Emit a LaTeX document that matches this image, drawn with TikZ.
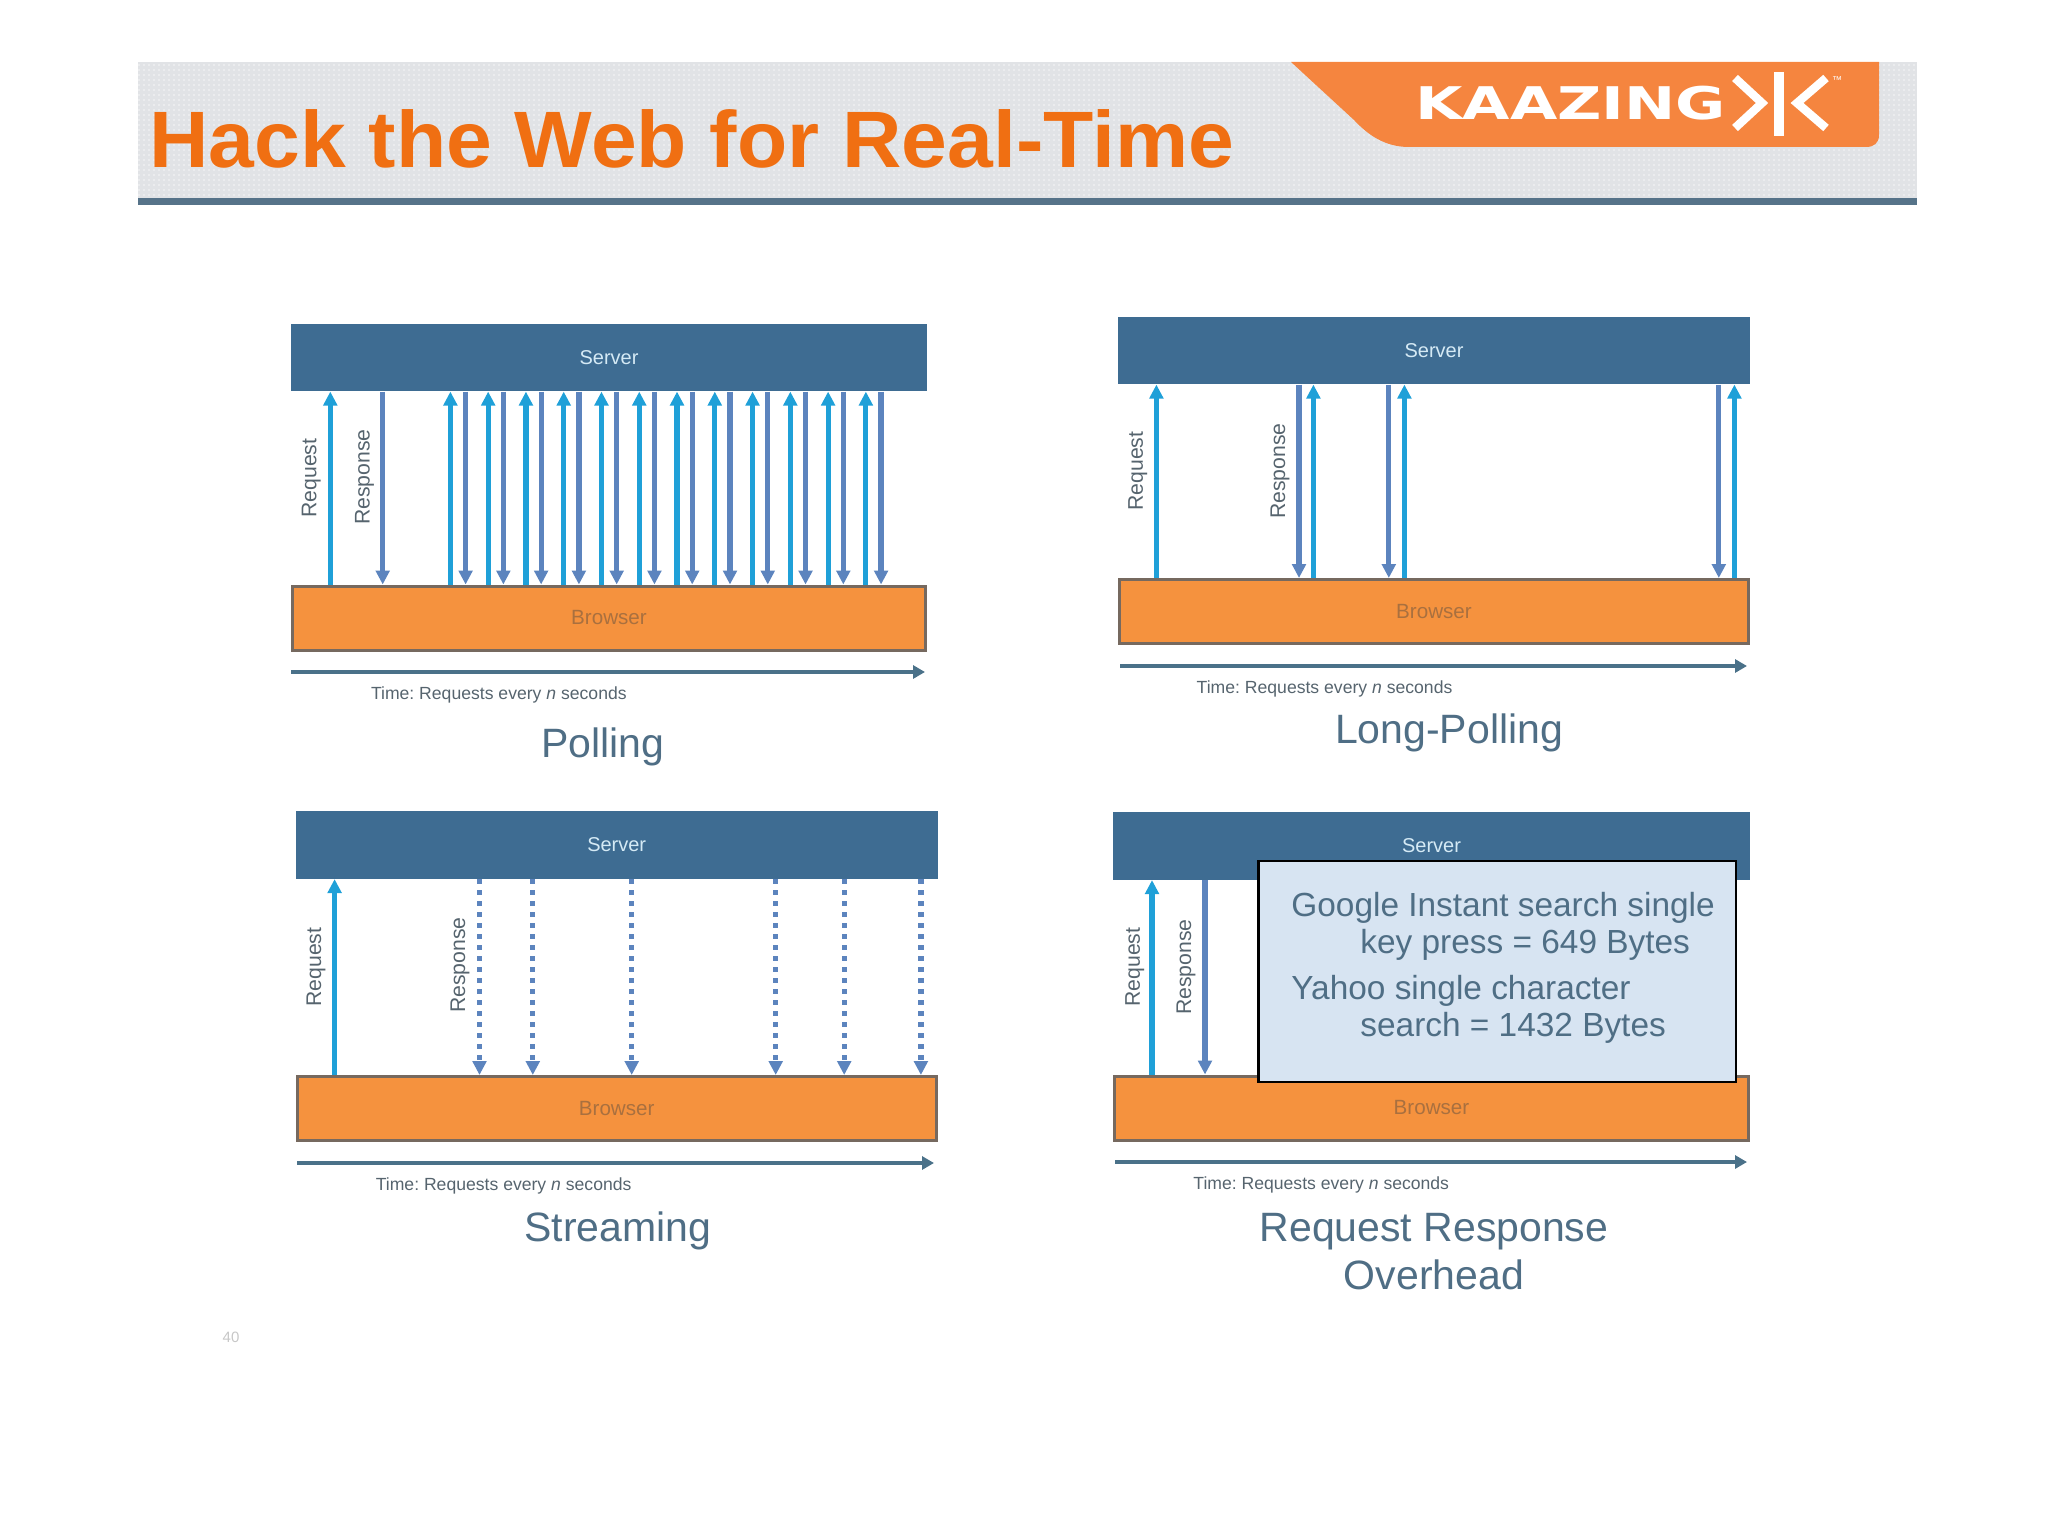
\documentclass[tikz,border=0pt]{standalone}
\usepackage{fontspec}
\usepackage{graphicx}
\setmainfont{Liberation Sans}
\newfontfamily\logofont{DejaVu Sans}
\usetikzlibrary{arrows.meta}
\frenchspacing
\definecolor{srvc}{HTML}{3E6C92}
\definecolor{srvtxt}{HTML}{D5EAF5}
\definecolor{brwc}{HTML}{F5923E}
\definecolor{brwline}{HTML}{76695F}
\definecolor{brwtxt}{HTML}{A9703F}
\definecolor{reqc}{HTML}{1FA0D8}
\definecolor{resc}{HTML}{5C84BE}
\definecolor{timec}{HTML}{4A7189}
\definecolor{capc}{HTML}{4F6E85}
\definecolor{lblc}{HTML}{56646E}
\definecolor{timetxt}{HTML}{56646E}
\definecolor{hdrc}{HTML}{E1E3E6}
\definecolor{barc}{HTML}{567389}
\definecolor{logoc}{HTML}{F5853F}
\definecolor{titlec}{HTML}{F06F12}
\definecolor{boxc}{HTML}{D7E4F2}
\tikzset{
  srv/.style={fill=srvc,text=srvtxt,inner sep=0pt,minimum height=33.7pt,font=\fontsize{10}{12}\selectfont},
  brw/.style={fill=brwc,draw=brwline,line width=1.5pt,text=brwtxt,inner sep=0pt,minimum height=32pt,font=\fontsize{10.3}{12}\selectfont},
  req/.style={draw=reqc,line width=2.6pt,-{Triangle[width=6.8pt,length=7pt]}},
  res/.style={draw=resc,line width=2.6pt,-{Triangle[width=6.8pt,length=7pt]}},
  stream/.style={res,dash pattern=on 2.6pt off 2.9pt},
  timearrow/.style={draw=timec,line width=2.4pt,-{Triangle[width=6.5pt,length=6pt]}},
  timelabel/.style={text=timetxt,anchor=base west,inner sep=0pt,font=\fontsize{8.8}{10}\selectfont},
  vlabel/.style={text=lblc,rotate=90,inner sep=0pt,font=\fontsize{10.6}{12}\selectfont},
  caption/.style={text=capc,inner sep=0pt,font=\fontsize{20.5}{24}\selectfont},
  boxtext/.style={text=capc,anchor=base west,inner sep=0pt,font=\fontsize{16.7}{20}\selectfont},
}
\begin{document}
\begin{tikzpicture}[x=0.5pt,y=-0.5pt]
\useasboundingbox (0,0) rectangle (2048,1535);
% header
\fill[hdrc] (138,62) rectangle (1917,198);
\foreach \yy in {65,70,...,195}{\draw[white,opacity=0.35,line width=1pt,dash pattern=on 1pt off 1.5pt] (138,\yy) -- (1917,\yy);}
\fill[barc] (138,198) rectangle (1917,205);
\fill[logoc] (1291,62) -- (1879,62) -- (1879,135) .. controls (1879,143) and (1874,147) .. (1866,147) -- (1409,147) .. controls (1385,147) and (1368,135) .. (1354,120) -- cycle;
\node[text=titlec,anchor=base west,inner sep=0pt] (title) at (149,168) {\scalebox{1.028}[1]{\fontsize{40}{46}\selectfont\bfseries Hack the Web for Real-Time}};
\node[text=white,anchor=base west,inner sep=0pt] (kaazing) at (1415,120) {\scalebox{1.36}[1]{\logofont\bfseries\fontsize{22.5}{26}\selectfont KAAZING}};
\draw[white,line width=4.2pt,miter limit=10] (1735,78) -- (1762,103) -- (1735,128);
\draw[white,line width=5pt] (1779,72) -- (1779,136);
\draw[white,line width=4.2pt,miter limit=10] (1826,78) -- (1797,103) -- (1826,128);
\node[text=white,inner sep=0pt,font=\fontsize{5}{6}\selectfont] (tm) at (1837,80) {™};
% Polling
\node[srv,minimum width=318pt] (s1) at (609,357.5) {Server};
\node[brw,minimum width=316.5pt] (b1) at (609,618) {Browser};
\draw[req] (330.3,0 |- b1.north) -- (330.3,0 |- s1.south);
\draw[res] (382.7,0 |- s1.south) -- (382.7,0 |- b1.north);
\foreach \k in {0,...,11}{
  \pgfmathsetmacro{\xa}{450.4+37.77*\k}
  \pgfmathsetmacro{\xb}{465.6+37.77*\k}
  \draw[req] (\xa,0 |- b1.north) -- (\xa,0 |- s1.south);
  \draw[res] (\xb,0 |- s1.south) -- (\xb,0 |- b1.north);
}
\node[vlabel] (rq1) at (311.2,478) {Request};
\node[vlabel] (rs1) at (364.5,477) {Response};
\coordinate (t1a) at (291,672); \coordinate (t1b) at (925,672);
\draw[timearrow] (t1a) -- (t1b);
\node[timelabel] (tt1) at (370.6,699) {Time: Requests every \textit{n} seconds};
\node[caption] (c1) at (603,747) {Polling};
% Long-Polling
\node[srv,minimum width=316pt] (s2) at (1434,350.5) {Server};
\node[brw,minimum width=314.5pt] (b2) at (1434,611.5) {Browser};
\foreach \xa in {1156.4,1313.4,1404.4,1734.4}{\draw[req] (\xa,0 |- b2.north) -- (\xa,0 |- s2.south);}
\foreach \xb in {1299,1388.8,1718.8}{\draw[res] (\xb,0 |- s2.south) -- (\xb,0 |- b2.north);}
\node[vlabel] (rq2) at (1137.7,471) {Request};
\node[vlabel] (rs2) at (1280,471) {Response};
\coordinate (t2a) at (1120,666); \coordinate (t2b) at (1747,666);
\draw[timearrow] (t2a) -- (t2b);
\node[timelabel] (tt2) at (1196.3,693) {Time: Requests every \textit{n} seconds};
\node[caption] (c2) at (1449,733) {Long-Polling};
% Streaming
\node[srv,minimum width=321pt] (s3) at (616.7,845) {Server};
\node[brw,minimum width=319.7pt] (b3) at (616.7,1108.5) {Browser};
\draw[req] (334.6,0 |- b3.north) -- (334.6,0 |- s3.south);
\foreach \xb in {479.5,532.8,631.7,775.7,844.2,920.9}{\draw[stream] (\xb,0 |- s3.south) -- (\xb,0 |- b3.north);}
\node[vlabel] (rq3) at (316,967) {Request};
\node[vlabel] (rs3) at (460,965) {Response};
\coordinate (t3a) at (297,1163); \coordinate (t3b) at (934,1163);
\draw[timearrow] (t3a) -- (t3b);
\node[timelabel] (tt3) at (375.4,1190) {Time: Requests every \textit{n} seconds};
\node[caption] (c3) at (618,1231) {Streaming};
% Request Response Overhead
\node[srv,minimum width=318.5pt] (s4) at (1431.5,846) {Server};
\node[brw,minimum width=317.2pt] (b4) at (1431.5,1108) {Browser};
\draw[req] (1152,0 |- b4.north) -- (1152,0 |- s4.south);
\draw[res] (1205,0 |- s4.south) -- (1205,0 |- b4.north);
\node[vlabel] (rq4) at (1134.7,967) {Request};
\node[vlabel] (rs4) at (1185.9,967) {Response};
\coordinate (t4a) at (1115,1162); \coordinate (t4b) at (1747,1162);
\draw[timearrow] (t4a) -- (t4b);
\node[timelabel] (tt4) at (1193,1189) {Time: Requests every \textit{n} seconds};
\node[caption] (c4a) at (1434,1232) {Request Response};
\node[caption] (c4b) at (1434,1275) {Overhead};
\fill[boxc,draw=black,line width=1.3pt] (1258.5,861) rectangle (1736,1082);
\node[boxtext] (g1) at (1291,916) {Google Instant search single};
\node[boxtext] (g2) at (1360,953) {key press = 649 Bytes};
\node[boxtext] (y1) at (1291,999) {Yahoo single character};
\node[boxtext] (y2) at (1360,1036) {search = 1432 Bytes};
% page number
\node[text=black!22,inner sep=0pt,font=\fontsize{7.5}{9}\selectfont] (pg) at (231,1337) {40};
\end{tikzpicture}
\end{document}
